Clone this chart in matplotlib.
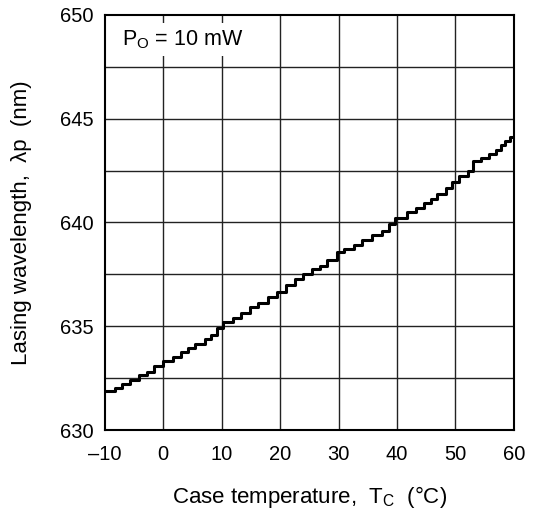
import matplotlib
matplotlib.use("Agg")
import matplotlib.pyplot as plt
from matplotlib.patches import Rectangle

plt.rcParams['font.family'] = ['Liberation Sans', 'DejaVu Sans']
plt.rcParams['mathtext.fontset'] = 'custom'
plt.rcParams['mathtext.rm'] = 'Liberation Sans'

# step corners: temperature (degC) and wavelength (nm) after each step
temp = [-10.0, -8.3, -7.0, -5.65, -4.2, -2.8, -1.5, -0.1, 1.6, 3.0, 4.3, 5.5, 7.1,
        8.1, 9.2, 10.3, 11.9, 13.3, 14.8, 16.3, 17.9, 19.5, 21.0, 22.6, 24.0, 25.4,
        26.9, 28.0, 29.7, 31.0, 32.7, 34.1, 35.8, 37.5, 38.7, 39.7, 41.8, 43.3, 44.7,
        45.8, 46.9, 48.4, 49.5, 50.7, 52.1, 53.0, 54.4, 55.8, 57.0, 57.8, 58.5, 59.3]
wavelength = [631.89, 632.05, 632.23, 632.42, 632.63, 632.82, 633.09, 633.34, 633.54,
              633.74, 633.93, 634.17, 634.41, 634.60, 634.92, 635.21, 635.40, 635.62,
              635.91, 636.13, 636.39, 636.66, 636.97, 637.26, 637.53, 637.75, 637.88,
              638.18, 638.57, 638.71, 638.90, 639.16, 639.38, 639.60, 639.92, 640.23,
              640.48, 640.72, 640.96, 641.15, 641.39, 641.66, 641.94, 642.26, 642.47,
              642.95, 643.11, 643.30, 643.50, 643.74, 643.93, 644.14]
t_end = 59.6

xticks = [-10, 0, 10, 20, 30, 40, 50, 60]
xticklabels = ['\u201310', '0', '10', '20', '30', '40', '50', '60']
yticks = [630, 635, 640, 645, 650]
ygrid = [632.5, 635, 637.5, 640, 642.5, 645, 647.5]

fig = plt.figure(figsize=(5.46, 5.12), dpi=100)
ax = fig.add_axes([0.192, 0.160, 0.749, 0.811])

ax.step(temp + [t_end], wavelength + [wavelength[-1]], where='post',
        color='black', lw=2.2, zorder=4)

ax.set_xlim(-10, 60)
ax.set_ylim(630, 650)
ax.set_xticks(xticks)
ax.set_xticklabels(xticklabels)
ax.set_yticks(yticks)
ax.tick_params(length=0, labelsize=14.5)
ax.tick_params(axis='x', pad=11)
ax.tick_params(axis='y', pad=8)

for x in xticks[1:-1]:
    ax.axvline(x, color='#222222', lw=1.0, zorder=1)
for y in ygrid:
    ax.axhline(y, color='#222222', lw=1.0, zorder=1)

for s in ax.spines.values():
    s.set_linewidth(1.5)

# white label box covering the grid in the top-left corner
ax.add_patch(Rectangle((-10, 648.0), 29.3, 1.6, facecolor='white',
                       edgecolor='none', zorder=2))
ax.text(-7.0, 648.8, r'P$_\mathregular{O}$ = 10 mW', fontsize=15.5,
        va='center', ha='left', zorder=3)

ax.set_xlabel(r'Case temperature,  T$_\mathregular{C}$  (°C)', fontsize=16, labelpad=14)
ax.set_ylabel('Lasing wavelength,  \u03bbp  (nm)', fontsize=16, labelpad=20)

fig.savefig('out.png', dpi=100)
